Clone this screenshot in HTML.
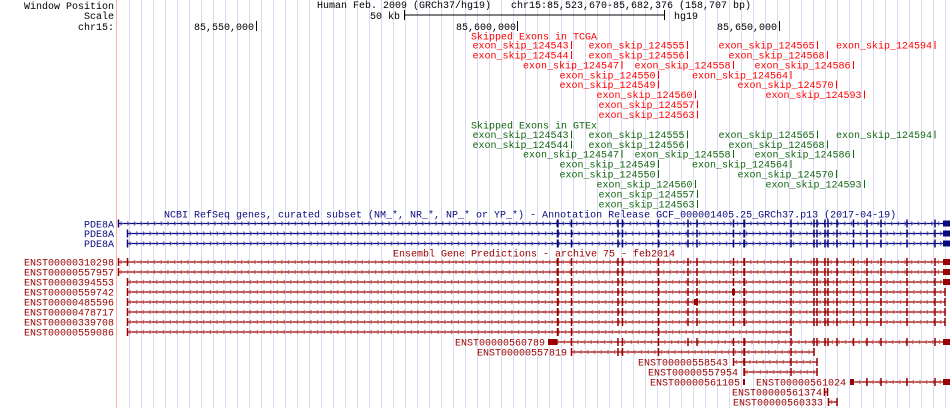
<!DOCTYPE html>
<html><head><meta charset="utf-8"><style>
html,body{margin:0;padding:0;background:#fff;width:950px;height:408px;overflow:hidden}
svg{display:block}
text{font-family:"Liberation Mono",monospace;font-size:10px}
.r{fill:#ff0000}.g{fill:#116611}.b{fill:#0a0a80}.d{fill:#990000}.k{fill:#000}
</style></head><body>
<svg id="s" width="950" height="408" xmlns="http://www.w3.org/2000/svg">
<g id="grid"></g>
<line x1="116.5" y1="0" x2="116.5" y2="408" stroke="#ffb0b0" stroke-width="1"/>
<g id="shapes"></g>
<!-- header -->
<text class="k" x="114" y="9" text-anchor="end">Window Position</text>
<text class="k" x="317" y="8">Human Feb. 2009 (GRCh37/hg19)</text>
<text class="k" x="511" y="8">chr15:85,523,670-85,682,376 (158,707 bp)</text>
<text class="k" x="114" y="19" text-anchor="end">Scale</text>
<text class="k" x="400" y="19" text-anchor="end">50 kb</text>
<line x1="404" y1="15" x2="664" y2="15" stroke="#000"/>
<line x1="404.5" y1="10" x2="404.5" y2="20" stroke="#000"/>
<line x1="664.5" y1="10" x2="664.5" y2="20" stroke="#000"/>
<text class="k" x="674" y="19">hg19</text>
<text class="k" x="114" y="30" text-anchor="end">chr15:</text>
<text class="k" x="254" y="30" text-anchor="end">85,550,000</text>
<line x1="256.5" y1="21" x2="256.5" y2="31" stroke="#000"/>
<text class="k" x="516" y="30" text-anchor="end">85,600,000</text>
<line x1="517.5" y1="21" x2="517.5" y2="31" stroke="#000"/>
<text class="k" x="777" y="30" text-anchor="end">85,650,000</text>
<line x1="779.5" y1="21" x2="779.5" y2="31" stroke="#000"/>
<!-- TCGA -->
<text class="r" x="471" y="39.5">Skipped Exons in TCGA</text>
<g class="r" text-anchor="end">
<text x="568.5" y="48.5">exon_skip_124543</text><text x="684.5" y="48.5">exon_skip_124555</text><text x="814.5" y="48.5">exon_skip_124565</text><text x="932" y="48.5">exon_skip_124594</text>
<text x="568.5" y="58.5">exon_skip_124544</text><text x="684.5" y="58.5">exon_skip_124556</text><text x="824.5" y="58.5">exon_skip_124568</text>
<text x="619" y="68.5">exon_skip_124547</text><text x="730.5" y="68.5">exon_skip_124558</text><text x="850.5" y="68.5">exon_skip_124586</text>
<text x="655.5" y="78.5">exon_skip_124550</text><text x="788" y="78.5">exon_skip_124564</text>
<text x="655.5" y="88">exon_skip_124549</text><text x="833.5" y="88">exon_skip_124570</text>
<text x="692.5" y="98">exon_skip_124560</text><text x="861.5" y="98">exon_skip_124593</text>
<text x="694.5" y="108">exon_skip_124557</text>
<text x="694.5" y="118">exon_skip_124563</text>
</g>
<!-- GTEx -->
<text class="g" x="471" y="128.5">Skipped Exons in GTEx</text>
<g class="g" text-anchor="end">
<text x="568.5" y="138">exon_skip_124543</text><text x="684.5" y="138">exon_skip_124555</text><text x="814.5" y="138">exon_skip_124565</text><text x="932" y="138">exon_skip_124594</text>
<text x="568.5" y="148">exon_skip_124544</text><text x="684.5" y="148">exon_skip_124556</text><text x="824.5" y="148">exon_skip_124568</text>
<text x="619" y="157.5">exon_skip_124547</text><text x="730.5" y="157.5">exon_skip_124558</text><text x="850.5" y="157.5">exon_skip_124586</text>
<text x="655.5" y="167.5">exon_skip_124549</text><text x="788" y="167.5">exon_skip_124564</text>
<text x="655.5" y="177.5">exon_skip_124550</text><text x="833.5" y="177.5">exon_skip_124570</text>
<text x="692.5" y="187.5">exon_skip_124560</text><text x="861.5" y="187.5">exon_skip_124593</text>
<text x="694.5" y="197.5">exon_skip_124557</text>
<text x="694.5" y="207.5">exon_skip_124563</text>
</g>
<!-- RefSeq -->
<text class="b" x="164" y="217.5">NCBI RefSeq genes, curated subset (NM_*, NR_*, NP_* or YP_*) - Annotation Release GCF_000001405.25_GRCh37.p13 (2017-04-19)</text>
<g class="b" text-anchor="end">
<text x="114" y="227.5">PDE8A</text><text x="114" y="237">PDE8A</text><text x="114" y="247">PDE8A</text>
</g>
<text class="d" x="393" y="256.5">Ensembl Gene Predictions - archive 75 - feb2014</text>
<g class="d" text-anchor="end">
<text x="114" y="265.5">ENST00000310298</text>
<text x="114" y="275.5">ENST00000557957</text>
<text x="114" y="285.5">ENST00000394553</text>
<text x="114" y="295.5">ENST00000559742</text>
<text x="114" y="305.5">ENST00000485596</text>
<text x="114" y="315.5">ENST00000478717</text>
<text x="114" y="325.5">ENST00000339708</text>
<text x="114" y="335.5">ENST00000559086</text>
<text x="545" y="345.5">ENST00000560789</text>
<text x="567" y="355.5">ENST00000557819</text>
<text x="728" y="365.5">ENST00000558543</text>
<text x="738" y="375.5">ENST00000557954</text>
<text x="740" y="385.5">ENST00000561105</text>
<text x="846" y="385.5">ENST00000561024</text>
<text x="822" y="395.5">ENST00000561374</text>
<text x="823" y="405.5">ENST00000560333</text>
</g>
</svg>
<script>
(function(){
var NS="http://www.w3.org/2000/svg";
var grid=document.getElementById("grid"),sh=document.getElementById("shapes");
function el(p,tag,a){var e=document.createElementNS(NS,tag);for(var k in a)e.setAttribute(k,a[k]);p.appendChild(e);return e;}
for(var x=129.5;x<950;x+=12)el(grid,"line",{x1:x,y1:0,x2:x,y2:408,stroke:"#dadaf2","stroke-width":1});
// skip ticks
function ticks(col,rows){rows.forEach(function(r){r[1].forEach(function(t){el(sh,"line",{x1:t,y1:r[0]-4,x2:t,y2:r[0]+4,stroke:col,"stroke-width":1});});});}
ticks("#ff0000",[[45,[571.5,687.5,817.5,935]],[55,[571.5,687.5,827.5]],[65,[622,733.5,853.5]],[75,[658.5,791]],[84.5,[658.5,836.5]],[94.5,[695.5,864.5]],[104.5,[697.5]],[114.5,[697.5]]]);
ticks("#116611",[[134.5,[571.5,687.5,817.5,935]],[144.5,[571.5,687.5,827.5]],[154,[622,733.5,853.5]],[164,[658.5,791]],[174,[658.5,836.5]],[184,[695.5,864.5]],[194,[697.5]],[204,[697.5]]]);
var E=[557.5,571.5,618,622.5,658.5,688,697,733.5,744,791,814,817,825,828,837,853.5,867,881,907,935];
function gene(y,x1,x2,col,arr,ex,boxes){
 el(sh,"line",{x1:x1,y1:y,x2:x2,y2:y,stroke:col,"stroke-width":1.3});
 for(var x=x1+4;x<x2-2;x+=6.7)el(sh,"path",{d:"M"+(x-1.5)+" "+(y-2)+"L"+(x+0.5)+" "+y+"L"+(x-1.5)+" "+(y+2),stroke:arr,fill:"none","stroke-width":0.9});
 ex.forEach(function(e){if(e>=x1-1&&e<=x2+1)el(sh,"rect",{x:e-0.75,y:y-4,width:(e==557.5||e==744)?2:1.5,height:8,fill:col});});
 (boxes||[]).forEach(function(b){el(sh,"rect",{x:b[0],y:y-b[2],width:b[1]-b[0],height:b[2]*2,fill:col});});
}
var B="#0a0a80",BA="#5a5ab0",R="#990000",RA="#d07070";
gene(223.5,118,948,B,BA,E.concat([118.5]),[[943,950,3]]);
gene(233.5,127,948,B,BA,E.concat([127.5]),[[943,950,3]]);
gene(243.5,127,948,B,BA,E.concat([127.5]),[[943,950,3]]);
var rows=[[262,118,948,[[943,950,3]],[118.5,127.5]],[272,118,948,[[943,950,3]],[118.5]],[282,127,948,[[943,950,3]],[127.5]],[292,127,945,[[732,735,3]],[127.5,945]],[302,127,945,[[694,698,3]],[127.5,945]],[312,127,945,[],[127.5,945]],[322,127,945,[],[127.5,945]]];
rows.forEach(function(r){gene(r[0],r[1],r[2],R,RA,E.concat(r[4]),r[3]);});
gene(332,127,791,R,RA,[127.5,557.5,571.5,658.5,791],[]);
gene(342,548,948,R,RA,E.filter(function(e){return e>560;}),[[548,557.5,3],[943,950,3]]);
gene(352,571.5,814.5,R,RA,[571.5,618,622.5,658.5,733.5,744,791,814],[]);
gene(362,733.5,817.5,R,RA,[733.5,744,791,817],[]);
gene(372,744,817.5,R,RA,[744,791,817],[]);
el(sh,"rect",{x:743,y:379,width:2,height:6,fill:R});
gene(382,850,948,R,RA,[867,881,907,935],[[850,854,3],[943,950,3]]);
gene(392,824.5,827.5,R,RA,[824.5,827.5],[]);
gene(402,828.5,837,R,RA,[828.5,837],[]);
})();
</script>
</body></html>
